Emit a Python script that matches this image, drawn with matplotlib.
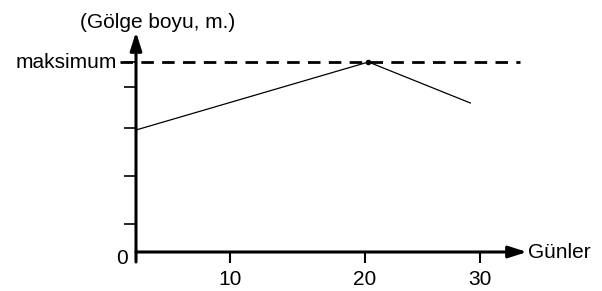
import matplotlib.pyplot as plt

plt.rcParams['font.family'] = ['Liberation Sans', 'DejaVu Sans']

# shadow length vs days (arbitrary units)
days = [0, 20.3, 29.2]
shadow = [6.1, 9.5, 7.45]
max_level = 9.5

x_tick_pos = [8.2, 20, 30]
x_tick_labels = ['10', '20', '30']
y_tick_pos = [1.4, 3.8, 6.2, 8.25, 9.5]

fig = plt.figure(figsize=(6.02, 2.91), dpi=100)
# axes: 0 at x=136px, 20 units ~ 229px ; y 0 at 252px, 1 unit = 20px
x0, y0 = 136, 252
xs, ys = 11.45, 20.0
xmin, xmax = 0, (527 - x0) / xs
ymin, ymax = 0, (y0 - 32) / ys
ax = fig.add_axes([x0 / 602, (291 - y0) / 291, (527 - x0) / 602, (y0 - 32) / 291])
ax.set_xlim(xmin, xmax)
ax.set_ylim(ymin, ymax)
for s in ax.spines.values():
    s.set_visible(False)

fs = 15

# axes with arrows
ax.annotate('', xy=(xmax, 0), xytext=(0, 0),
            arrowprops=dict(arrowstyle='-|>,head_length=1.1,head_width=0.35', lw=2.2, color='black',
                            shrinkA=0, shrinkB=0))
ax.annotate('', xy=(0, ymax), xytext=(0, -0.5),
            arrowprops=dict(arrowstyle='-|>,head_length=1.1,head_width=0.35', lw=2.2, color='black',
                            shrinkA=0, shrinkB=0), annotation_clip=False)

ax.set_xticks(x_tick_pos)
ax.set_xticklabels(x_tick_labels, fontsize=fs)
ax.set_yticks(y_tick_pos)
ax.set_yticklabels([])
ax.tick_params(axis='x', direction='out', length=8, width=1.5, pad=5)
ax.tick_params(axis='y', direction='out', length=9, width=1.2)

# max dashed line
ax.plot([-1.4, (520 - x0) / xs], [max_level, max_level], ls=(0, (4.5, 3)), lw=2, color='black',
        clip_on=False)

# data
ax.plot(days, shadow, color='black', lw=0.9)
ax.plot(days[1], shadow[1], 'o', color='black', ms=3)

ax.text(-1.7, max_level, 'maksimum', fontsize=fs, ha='right', va='center')
ax.text(-0.7, -0.3, '0', fontsize=fs, ha='right', va='center')
ax.text(xmax + 0.1, 0, 'Günler', fontsize=fs, ha='left', va='center')
ax.text(1.9, 11.2, '(Gölge boyu, m.)', fontsize=fs, ha='center', va='baseline')

fig.savefig('out.png', dpi=100)
